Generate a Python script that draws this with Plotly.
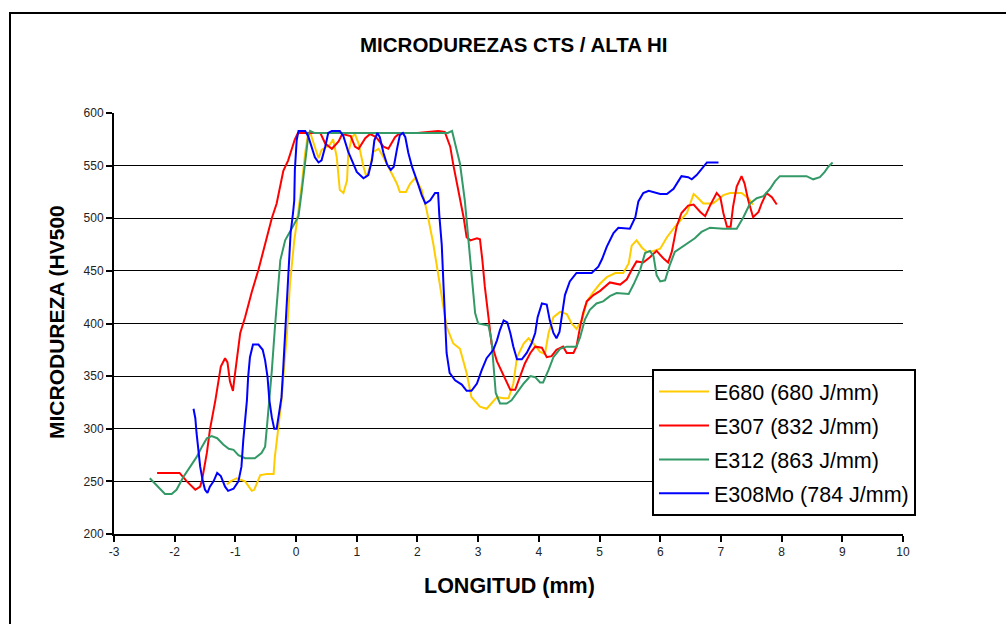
import plotly.graph_objects as go

# ---------------- data ----------------
series_names = ["E680 (680 J/mm)", "E307 (832 J/mm)", "E312 (863 J/mm)", "E308Mo (784 J/mm)"]
series_colors = ["#FFCC00", "#FF0000", "#339966", "#0000FF"]

e680_x = [-1.14, -1.08, -0.98, -0.84, -0.73, -0.69, -0.59, -0.48, -0.37, -0.35, -0.29, -0.24, -0.21,
          -0.15, -0.10, -0.03, 0.01, 0.05, 0.09, 0.15, 0.20, 0.24, 0.31, 0.37, 0.42, 0.51, 0.56, 0.61,
          0.67, 0.72, 0.78, 0.84, 0.86, 0.92, 0.97, 1.03, 1.11, 1.16, 1.22, 1.27, 1.36, 1.44, 1.55,
          1.66, 1.71, 1.81, 1.88, 1.96, 2.07, 2.15, 2.26, 2.37, 2.48, 2.59, 2.70, 2.81, 2.89, 3.03,
          3.14, 3.31, 3.42, 3.50, 3.58, 3.64, 3.75, 3.83, 3.91, 4.02, 4.10, 4.16, 4.24, 4.35, 4.46,
          4.54, 4.62, 4.71, 4.79, 4.90, 5.01, 5.12, 5.26, 5.39, 5.48, 5.53, 5.61, 5.70, 5.78, 5.89,
          6.00, 6.11, 6.27, 6.44, 6.55, 6.61, 6.71, 6.87, 7.04, 7.15, 7.34, 7.45, 7.53]
e680_y = [247, 250, 253, 250, 241, 242, 256, 257, 257, 273, 302, 327, 349,
          391, 438, 479, 495, 512, 530, 562, 581, 580, 568, 557, 565, 568, 570, 575,
          558, 527, 524, 536, 562, 577, 580, 571, 549, 539, 549, 563, 566, 558, 546,
          533, 525, 525, 533, 538, 527, 508, 476, 435, 397, 381, 376, 353, 330, 321,
          319, 330, 329, 329, 343, 368, 381, 386, 381, 373, 371, 391, 406, 411, 409,
          400, 395, 403, 421, 430, 438, 444, 448, 448, 457, 474, 479, 472, 468, 469,
          471, 482, 494, 505, 523, 520, 514, 514, 522, 524, 524, 519, 513]

e307_x = [-2.29, -1.92, -1.80, -1.66, -1.58, -1.55, -1.47, -1.42, -1.33, -1.28, -1.24, -1.17, -1.13,
          -1.09, -1.04, -1.02, -0.99, -0.92, -0.84, -0.73, -0.62, -0.51, -0.40, -0.32, -0.21, -0.13,
          -0.07, -0.02, 0.03, 0.40, 0.48, 0.59, 0.70, 0.76, 0.90, 0.97, 1.03, 1.14, 1.22, 1.32, 1.44,
          1.52, 1.63, 1.71, 2.00, 2.34, 2.45, 2.54, 2.59, 2.67, 2.76, 2.81, 2.87, 2.98, 3.03, 3.07,
          3.11, 3.17, 3.22, 3.31, 3.42, 3.53, 3.61, 3.69, 3.77, 3.86, 3.94, 4.05, 4.13, 4.21, 4.29,
          4.40, 4.46, 4.57, 4.62, 4.68, 4.73, 4.79, 4.90, 5.01, 5.17, 5.34, 5.45, 5.53, 5.61, 5.72,
          5.83, 5.94, 6.05, 6.13, 6.19, 6.27, 6.35, 6.46, 6.55, 6.66, 6.74, 6.82, 6.93, 6.99, 7.04,
          7.10, 7.16, 7.20, 7.26, 7.34, 7.39, 7.45, 7.53, 7.62, 7.67, 7.75, 7.84, 7.92]
e307_y = [258, 258, 250, 242, 245, 251, 277, 299, 327, 346, 359, 367, 363,
          345, 336, 346, 361, 391, 406, 430, 451, 476, 500, 514, 545, 555,
          565, 575, 581, 581, 571, 566, 573, 580, 578, 568, 566, 576, 580, 577, 568,
          566, 577, 581, 581, 583, 582, 568, 551, 527, 501, 482, 479, 481, 480, 460,
          435, 406, 381, 364, 350, 337, 337, 350, 362, 372, 378, 377, 368, 369, 375,
          378, 372, 372, 378, 397, 410, 421, 427, 431, 439, 437, 442, 451, 459, 458,
          463, 469, 462, 458, 468, 492, 505, 512, 513, 506, 502, 512, 524, 520, 505,
          492, 492, 511, 530, 540, 533, 517, 501, 506, 514, 524, 520, 513]

e312_x = [-2.41, -2.27, -2.16, -2.05, -1.97, -1.86, -1.75, -1.64, -1.55, -1.47, -1.39, -1.30, -1.20,
          -1.11, -1.03, -0.95, -0.84, -0.68, -0.57, -0.51, -0.48, -0.44, -0.40, -0.35, -0.31, -0.26,
          -0.18, -0.07, 0.04, 0.09, 0.15, 0.20, 0.23, 0.30, 1.00, 2.00, 2.50, 2.57, 2.62, 2.70, 2.78,
          2.84, 2.89, 2.95, 3.00, 3.09, 3.17, 3.22, 3.25, 3.29, 3.36, 3.47, 3.55, 3.64, 3.75, 3.86,
          3.94, 4.02, 4.07, 4.16, 4.24, 4.35, 4.46, 4.62, 4.68, 4.76, 4.84, 4.95, 5.06, 5.17, 5.28,
          5.48, 5.56, 5.67, 5.75, 5.83, 5.89, 5.94, 6.00, 6.08, 6.16, 6.24, 6.41, 6.57, 6.68, 6.82,
          7.04, 7.26, 7.37, 7.48, 7.59, 7.70, 7.81, 7.89, 7.97, 8.19, 8.41, 8.52, 8.63, 8.71, 8.77,
          8.84]
e312_y = [253, 245, 238, 238, 242, 254, 264, 273, 283, 291, 293, 291, 285,
          281, 280, 275, 272, 272, 277, 283, 302, 327, 355, 395, 425, 460,
          479, 490, 502, 524, 555, 578, 583, 581, 581, 581, 581, 583, 572, 552, 517,
          479, 448, 410, 400, 399, 398, 384, 359, 334, 324, 324, 327, 334, 343, 350,
          349, 344, 344, 356, 368, 376, 378, 378, 387, 404, 413, 419, 421, 426, 429,
          428, 437, 451, 467, 469, 464, 446, 440, 441, 456, 468, 475, 481, 487, 491,
          490, 490, 501, 514, 519, 521, 528, 535, 540, 540, 540, 537, 539, 544, 549,
          553]

e308mo_x = [-1.69, -1.66, -1.64, -1.61, -1.58, -1.54, -1.50, -1.46, -1.42, -1.36, -1.30, -1.24, -1.17,
            -1.12, -1.03, -0.95, -0.90, -0.87, -0.84, -0.81, -0.79, -0.76, -0.71, -0.62, -0.55, -0.51,
            -0.47, -0.44, -0.40, -0.36, -0.32, -0.28, -0.24, -0.21, -0.18, -0.14, -0.11, -0.09, -0.05,
            -0.03, -0.02, 0.01, 0.04, 0.15, 0.20, 0.26, 0.31, 0.37, 0.42, 0.48, 0.53, 0.59, 0.72, 0.78,
            0.86, 0.92, 1.00, 1.11, 1.19, 1.25, 1.29, 1.34, 1.38, 1.44, 1.50, 1.56, 1.61, 1.66, 1.71,
            1.76, 1.80, 1.85, 1.91, 1.99, 2.07, 2.13, 2.21, 2.29, 2.34, 2.36, 2.40, 2.43, 2.45, 2.48,
            2.53, 2.62, 2.73, 2.81, 2.89, 2.98, 3.06, 3.14, 3.25, 3.31, 3.36, 3.42, 3.48, 3.53, 3.58,
            3.64, 3.72, 3.80, 3.88, 3.94, 3.98, 4.05, 4.13, 4.18, 4.24, 4.29, 4.34, 4.38, 4.43, 4.51,
            4.62, 4.79, 4.87, 4.98, 5.04, 5.12, 5.23, 5.31, 5.50, 5.59, 5.64, 5.72, 5.81, 6.00, 6.11,
            6.22, 6.30, 6.35, 6.46, 6.52, 6.60, 6.68, 6.77, 6.96]
e308mo_y = [319, 310, 296, 277, 264, 251, 242, 239, 245, 250, 258, 255, 245,
            241, 243, 250, 264, 289, 305, 327, 349, 368, 380, 380, 375, 365,
            349, 327, 311, 300, 300, 315, 330, 359, 391, 422, 454, 486, 505,
            517, 546, 574, 583, 583, 578, 568, 558, 553, 555, 568, 581, 583, 583, 578,
            563, 555, 544, 538, 541, 555, 574, 581, 577, 562, 551, 546, 549, 565, 579,
            581, 577, 562, 549, 536, 522, 514, 517, 524, 524, 503, 475, 435, 403, 372,
            353, 346, 342, 336, 336, 343, 356, 367, 375, 384, 394, 403, 401, 391, 378,
            366, 366, 372, 381, 391, 406, 419, 418, 403, 391, 386, 392, 410, 427, 440,
            448, 448, 448, 454, 461, 473, 486, 491, 490, 501, 516, 524, 526, 523, 523,
            528, 536, 540, 539, 537, 541, 547, 553, 553]

x_tick_vals = [-3, -2, -1, 0, 1, 2, 3, 4, 5, 6, 7, 8, 9, 10]
x_tick_text = ["-3", "-2", "-1", "0", "1", "2", "3", "4", "5", "6", "7", "8", "9", "10"]
y_tick_vals = [200, 250, 300, 350, 400, 450, 500, 550, 600]

chart_title = "MICRODUREZAS CTS / ALTA HI"
x_title = "LONGITUD (mm)"
y_title = "MICRODUREZA (HV500"

# ---------------- figure ----------------
FONT = "Liberation Sans, Arial, sans-serif"
W, H = 1006, 624
L, R, T, B = 114, 103, 113, 90
PW, PH = W - L - R, H - T - B


def px_to_paper(px, py):
    return (px - L) / PW, (H - B - py) / PH


fig = go.Figure()
all_x = [e680_x, e307_x, e312_x, e308mo_x]
all_y = [e680_y, e307_y, e312_y, e308mo_y]
for i, (xs, ys) in enumerate(zip(all_x, all_y)):
    fig.add_trace(go.Scatter(
        x=xs, y=ys, mode="lines", name=series_names[i],
        line=dict(color=series_colors[i], width=2),
        legendgroup=f"g{i}",
    ))

tx, ty = px_to_paper(513, 45)
xx, xy = px_to_paper(509, 586)
yx, yy = px_to_paper(56, 322)
lx, ly = px_to_paper(652, 369)
bx0, by1 = px_to_paper(10, 13)

fig.update_layout(
    width=W, height=H, autosize=False,
    margin=dict(l=L, r=R, t=T, b=B, pad=0),
    paper_bgcolor="white", plot_bgcolor="white",
    font=dict(family=FONT, color="#222222"),
    showlegend=True,
    legend=dict(
        x=lx, y=ly, xanchor="left", yanchor="top",
        bgcolor="white", bordercolor="black", borderwidth=2,
        font=dict(size=21.5, family=FONT, color="black"),
        tracegroupgap=3, itemwidth=50,
    ),
    xaxis=dict(
        range=[-3, 10], tickvals=x_tick_vals, ticktext=x_tick_text,
        showgrid=False, zeroline=False,
        showline=True, linecolor="black", linewidth=2,
        ticks="outside", ticklen=6, tickcolor="black", tickwidth=2,
        tickfont=dict(size=12, family=FONT, color="#222222"),
    ),
    yaxis=dict(
        range=[200, 600], tickvals=y_tick_vals,
        showgrid=True, gridcolor="black", gridwidth=1,
        zeroline=False,
        showline=True, linecolor="black", linewidth=2,
        ticks="outside", ticklen=6, tickcolor="black", tickwidth=2,
        tickfont=dict(size=12, family=FONT, color="#222222"),
    ),
    annotations=[
        dict(text=f"<b>{chart_title}</b>", x=tx, y=ty, xref="paper", yref="paper",
             xanchor="center", yanchor="middle", showarrow=False,
             font=dict(size=20.5, family=FONT, color="black")),
        dict(text=f"<b>{x_title}</b>", x=xx, y=xy, xref="paper", yref="paper",
             xanchor="center", yanchor="middle", showarrow=False,
             font=dict(size=21.5, family=FONT, color="black")),
        dict(text=f"<b>{y_title}</b>", x=yx, y=yy, xref="paper", yref="paper",
             xanchor="center", yanchor="middle", showarrow=False, textangle=-90,
             font=dict(size=21, family=FONT, color="black")),
    ],
    shapes=[
        dict(type="rect", xref="paper", yref="paper",
             x0=bx0, y0=-0.5, x1=1.3, y1=by1,
             line=dict(color="black", width=2), fillcolor="rgba(0,0,0,0)", layer="below"),
    ],
)

fig.write_html("out.html")
